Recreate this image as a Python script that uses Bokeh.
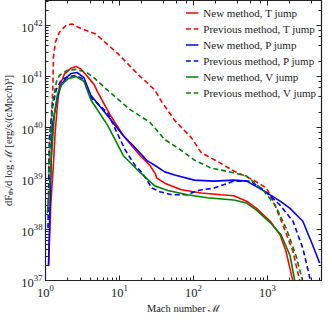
from bokeh.plotting import figure
from bokeh.models import LogAxis, Legend, LegendItem, Range1d, CustomJSTickFormatter
from bokeh.embed import file_html
from bokeh.resources import INLINE

# Mach number and flux per log Mach
new_T_mach = [1.10, 1.18, 1.27, 1.35, 1.45, 1.54, 1.79, 2.2, 2.59, 3.0, 3.6, 4.5, 5.1, 7.6, 11.3, 19.1, 25.9,
              30.3, 32.1, 41, 69, 128, 236, 352, 525, 713, 1096, 1490, 1791, 2222, 2500]
new_T_flux = [1.9e37, 3.2e38, 1.6e39, 7.9e39, 2.8e40, 6.3e40, 1.1e41, 1.45e41, 1.58e41, 1.41e41, 1.05e41, 7.1e40,
              4.9e40, 1.7e40, 6.9e39, 2.8e39, 1.8e39, 1.26e39, 1.02e39, 8.1e38, 6.0e38, 5.2e38, 4.8e38, 4.6e38,
              3.6e38, 2.6e38, 1.45e38, 7.8e37, 3.7e37, 9.5e36, 3.2e36]

prev_T_mach = [1.10, 1.13, 1.20, 1.26, 1.28, 1.36, 1.54, 1.91, 2.29, 2.75, 4.79, 9.7, 17.9, 30.3, 36.3, 55.8, 94,
               128, 203, 352, 650, 975, 1202, 1633, 2222, 2754, 3020]
prev_T_flux = [1.0e39, 4.0e39, 1.6e40, 6.2e40, 2.4e41, 4.7e41, 7.4e41, 1.02e42, 1.07e42, 9.3e41, 6.8e41, 2.75e41,
               1.1e41, 5.4e40, 3.4e40, 1.38e40, 6.3e39, 3.2e39, 2.24e39, 1.41e39, 9.3e38, 6.5e38, 3.6e38, 1.2e38,
               3.7e37, 9.5e36, 5.5e36]

new_P_mach = [1.10, 1.13, 1.20, 1.24, 1.45, 1.63, 1.91, 2.22, 2.67, 3.31, 4.1, 6.92, 11.3, 15.4, 23.6, 30.3, 41,
              55.8, 103, 191, 352, 525, 885, 1490, 2027, 3020, 4105, 5093]
new_P_flux = [2.0e37, 1.07e38, 3.0e39, 1.15e40, 3.9e40, 6.8e40, 9.5e40, 1.15e41, 1.2e41, 9.5e40, 4.3e40, 1.7e40,
              6.9e39, 4.4e39, 2.24e39, 1.8e39, 1.35e39, 1.17e39, 9.3e38, 8.9e38, 9.3e38, 8.9e38, 5.8e38, 3.6e38,
              2.6e38, 1.45e38, 4.9e37, 2.2e37]

prev_P_mach = [1.08, 1.13, 1.24, 1.40, 1.63, 2.03, 2.59, 3.31, 4.1, 6.92, 12.0, 16.3, 20.3, 27.5, 35.2, 50.9, 83,
               113, 191, 352, 593, 885, 1490, 2222, 3020, 3861, 4220]
prev_P_flux = [1.07e38, 6.3e39, 2.45e40, 5.6e40, 8.5e40, 1.0e41, 1.05e41, 8.7e40, 3.9e40, 1.95e40, 3.6e39, 1.8e39,
               1.3e39, 6.5e38, 5.5e38, 4.8e38, 4.8e38, 5.8e38, 6.5e38, 8.9e38, 8.9e38, 6.0e38, 3.0e38, 1.45e38,
               4.3e37, 9.5e36, 5.5e36]

new_V_mach = [1.06, 1.13, 1.20, 1.32, 1.45, 1.63, 2.03, 2.59, 3.31, 4.1, 6.92, 11.3, 19.1, 30.3, 45, 83, 154, 352,
              525, 713, 1130, 1538, 2027, 2362, 2512]
new_V_flux = [2.1e38, 6.5e38, 2.6e39, 1.8e40, 4.5e40, 6.8e40, 9.1e40, 1.0e41, 8.1e40, 3.5e40, 1.1e40, 2.8e39,
              1.3e39, 7.1e38, 5.8e38, 4.8e38, 4.2e38, 3.8e38, 3.3e38, 2.4e38, 1.3e38, 7.8e37, 3.1e37, 9.5e36, 5.5e36]

prev_V_mach = [1.10, 1.20, 1.24, 1.40, 1.54, 1.96, 2.59, 3.63, 4.5, 6.92, 14.0, 25.9, 41, 61.2, 103, 174, 352, 525,
               885, 1279, 1791, 2436, 3020, 3300]
prev_V_flux = [1.3e39, 1.15e40, 2.8e40, 7.8e40, 1.05e41, 1.32e41, 1.38e41, 1.2e41, 9.5e40, 5.4e40, 2.24e40, 1.26e40,
               5.8e39, 4.0e39, 2.3e39, 1.6e39, 1.3e39, 1.12e39, 5.8e38, 3.0e38, 1.07e38, 3.1e37, 9.5e36, 5.5e36]

labels = ["New method, T jump", "Previous method, T jump",
          "New method, P jump", "Previous method, P jump",
          "New method, V jump", "Previous method, V jump"]

FONT = "Liberation Serif"
INK = "#222222"

p = figure(width=323, height=316, x_axis_type="log", y_axis_type="log",
           x_range=Range1d(1, 5400), y_range=Range1d(1e37, 3.1e42),
           output_backend="svg", toolbar_location=None,
           min_border_left=44, min_border_right=2, min_border_top=0, min_border_bottom=2)

p.background_fill_color = "white"
p.outline_line_color = INK
p.outline_line_width = 1.2
p.xgrid.visible = False
p.ygrid.visible = False

series = [
    (new_T_mach, new_T_flux, "#ff0000", "solid"),
    (prev_T_mach, prev_T_flux, "#ff0000", "5 3"),
    (new_P_mach, new_P_flux, "#0000ff", "solid"),
    (prev_P_mach, prev_P_flux, "#0000ff", "5 3"),
    (new_V_mach, new_V_flux, "#008000", "solid"),
    (prev_V_mach, prev_V_flux, "#008000", "5 3"),
]
items = []
for (xs, ys, col, dash), lab in zip(series, labels):
    r = p.line(xs, ys, line_color=col, line_width=1.6, line_dash=dash)
    items.append(LegendItem(label=lab, renderers=[r]))

for ax in (p.xaxis[0], p.yaxis[0]):
    ax.major_tick_in = 5
    ax.major_tick_out = 0
    ax.minor_tick_in = 3
    ax.minor_tick_out = 0
    ax.axis_line_color = INK
    ax.major_tick_line_color = INK
    ax.minor_tick_line_color = INK
    ax.major_label_text_font = FONT
    ax.major_label_text_font_size = "12.5px"
    ax.major_label_text_color = INK
    ax.axis_label_text_font = FONT
    ax.axis_label_text_font_size = "10.5px"
    ax.axis_label_text_font_style = "normal"
    ax.axis_label_text_color = INK

p.xaxis[0].axis_label = "Mach number \u2133"
p.yaxis[0].axis_label = "dF\u209c\u2095/d log \u2133 [erg/s/(cMpc/h)\u00b3]"
p.xaxis[0].axis_label_standoff = 3
p.yaxis[0].axis_label_standoff = 4
p.xaxis[0].major_label_standoff = 4
p.yaxis[0].major_label_standoff = 3

blank = CustomJSTickFormatter(code="return ''")
for side in ("above", "right"):
    ax = LogAxis(major_tick_in=5, major_tick_out=0, minor_tick_in=3, minor_tick_out=0,
                 axis_line_color=INK, major_tick_line_color=INK, minor_tick_line_color=INK,
                 major_label_standoff=0, formatter=blank, major_label_text_font_size="6px")
    p.add_layout(ax, side)

legend = Legend(items=items, location="top_right")
legend.label_text_font = FONT
legend.label_text_font_size = "11px"
legend.label_text_color = INK
legend.background_fill_alpha = 0
legend.border_line_alpha = 0
legend.glyph_width = 13
legend.glyph_height = 15
legend.label_height = 15
legend.spacing = 1
legend.padding = 2
legend.margin = 3
legend.label_standoff = 5
p.add_layout(legend)

open("out.html", "w").write(file_html(p, INLINE))
